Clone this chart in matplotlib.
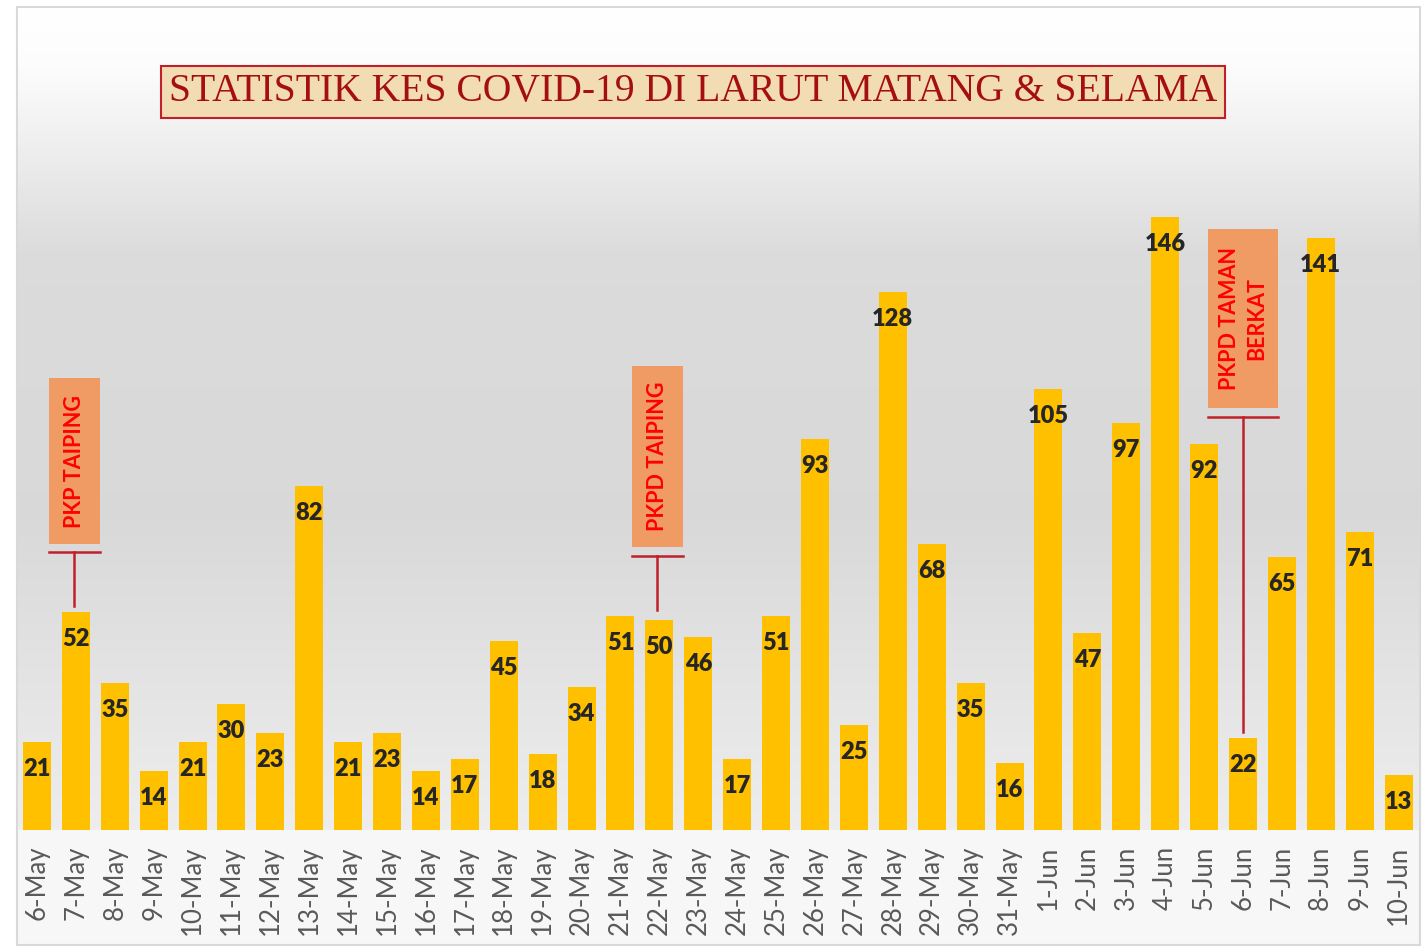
import numpy as np
import matplotlib.pyplot as plt
from matplotlib.patches import Rectangle

# data
dates = [f"{d}-May" for d in range(6, 32)] + [f"{d}-Jun" for d in range(1, 11)]
cases = [21, 52, 35, 14, 21, 30, 23, 82, 21, 23, 14, 17, 45, 18, 34, 51, 50, 46,
         17, 51, 93, 25, 128, 68, 35, 16, 105, 47, 97, 146, 92, 22, 65, 141, 71, 13]
title = "STATISTIK KES COVID-19 DI LARUT MATANG & SELAMA"
notes = ["PKP TAIPING", "PKPD TAIPING", "PKPD TAMAN\nBERKAT"]

W, H = 1423, 948
fig = plt.figure(figsize=(W / 100, H / 100), dpi=100)
fig.patch.set_facecolor("white")

# light strip under the bars + outer frame
fig.patches.append(Rectangle((18 / W, 1 - 944 / H), (1419 - 18) / W, (944 - 830) / H,
                             transform=fig.transFigure, facecolor="#f7f7f7",
                             edgecolor="none", zorder=-2))
fig.patches.append(Rectangle((17 / W, 1 - 945 / H), (1420 - 17) / W, (945 - 7) / H,
                             transform=fig.transFigure, fill=False,
                             edgecolor="#d9d9d9", linewidth=1.5, zorder=-1))

ax = fig.add_axes([17.5 / W, 1 - 830 / H, (1418 - 17.5) / W, (830 - 8) / H])
ymax = (830 - 8) / 4.2
ax.set_xlim(-0.5, len(cases) - 0.5)
ax.set_ylim(0, ymax)

# background gradient (top white -> grey -> lighter at base)
stops_y = np.array([0.0, 0.07, 0.30, 0.62, 0.85, 1.0])
stops_c = np.array([1.0, 0.99, 0.86, 0.85, 0.90, 0.93])
yy = np.linspace(0, 1, 400)
shade = np.interp(yy, stops_y, stops_c)
img = np.repeat(shade[:, None], 2, axis=1)
ax.imshow(np.dstack([img, img, img]), extent=(-0.5, len(cases) - 0.5, 0, ymax),
          origin="upper", aspect="auto", zorder=0)

x = np.arange(len(cases))
ax.bar(x, cases, width=0.72, color="#ffc000", zorder=2)

for xi, v in zip(x, cases):
    ax.annotate(str(v), (xi, v), xytext=(0, -27), textcoords="offset pixels",
                ha="center", va="center", fontsize=17, fontweight="heavy",
                family="Lato", color="#262626", zorder=4)

ax.set_xticks(x)
ax.set_xticklabels(dates, rotation=90, family="Lato", fontsize=18.5, color="#595959")
ax.tick_params(axis="x", length=0, pad=11)
ax.set_yticks([])
for s in ax.spines.values():
    s.set_visible(False)

# annotation boxes: (bar centre, box bottom, box top, width, line level, line end)
boxes = [(0.96, 68.1, 107.6, 1.31, 66.2, 53.3),
         (15.94, 67.4, 110.5, 1.31, 65.2, 52.4),
         (31.0, 100.5, 143.1, 1.82, 98.3, 23.3)]
for label, (cx, b0, b1, w, ly, le) in zip(notes, boxes):
    ax.add_patch(Rectangle((cx - w / 2, b0), w, b1 - b0, facecolor="#ef9b63",
                           edgecolor="none", zorder=5))
    ax.text(cx, (b0 + b1) / 2, label, rotation=90, ha="center", va="center",
            family="Lato", fontweight="bold", fontsize=15.5, color="#ff0000",
            linespacing=1.35, zorder=6)
    ax.plot([cx - w / 2, cx + w / 2], [ly, ly], color="#c0202a", lw=1.8, zorder=5)
    ax.plot([cx, cx], [ly, le], color="#c0202a", lw=1.8, zorder=5)

# title box
fig.text(693 / W, 1 - 92 / H, title, ha="center", va="center",
         family="Liberation Serif", fontsize=28.5, color="#a50f0f",
         bbox=dict(boxstyle="square,pad=0.2", facecolor="#f2dcb4",
                   edgecolor="#c0202a", linewidth=1.5))

fig.savefig("out.png", dpi=100)
